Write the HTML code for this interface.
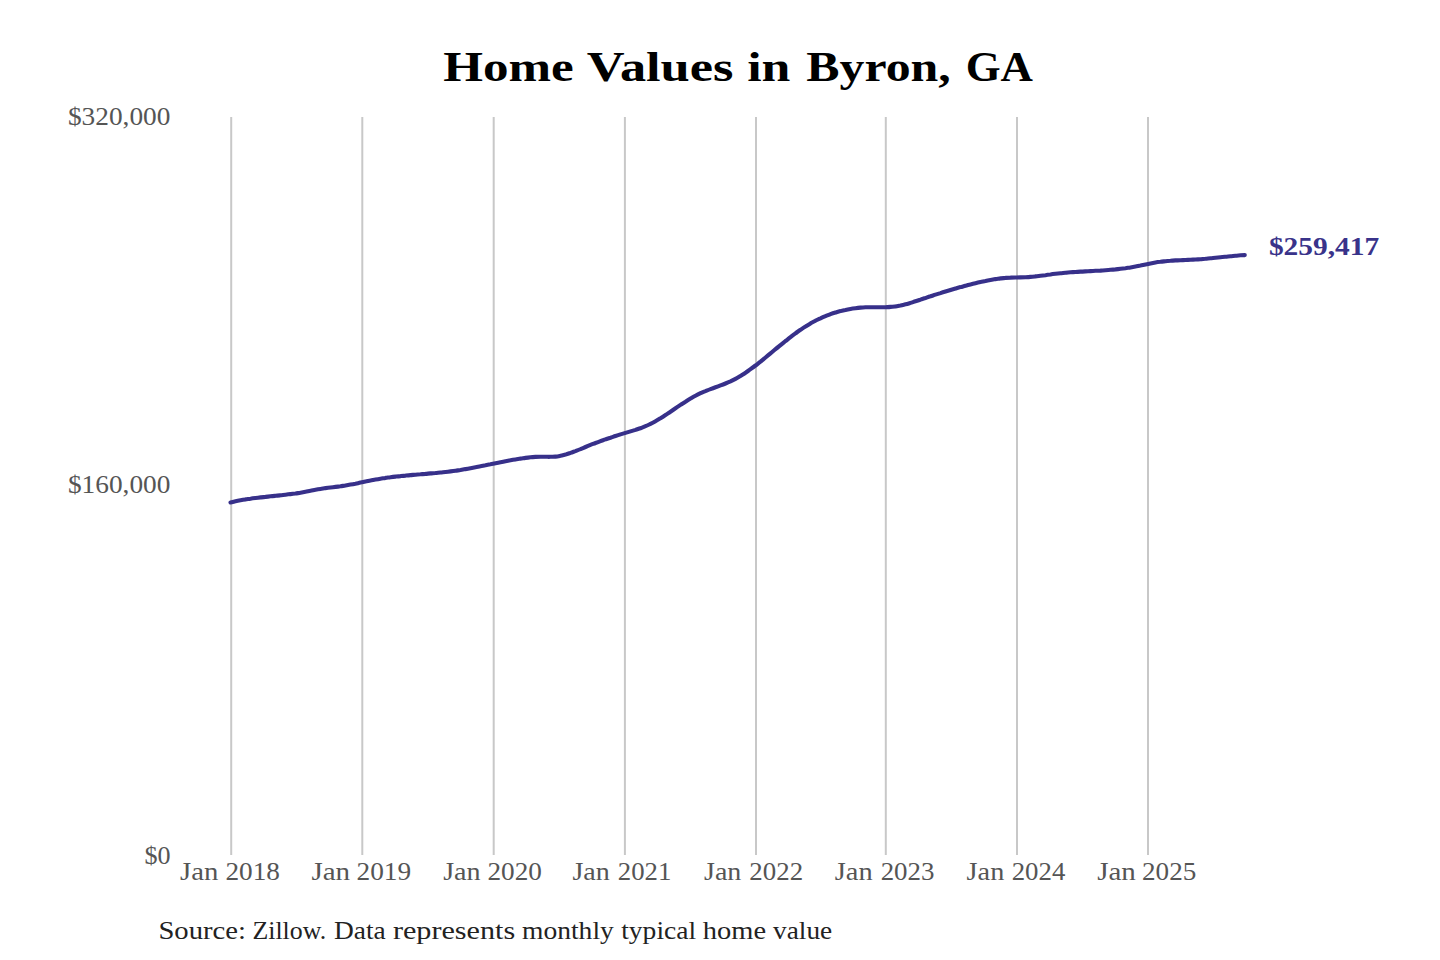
<!DOCTYPE html>
<html><head><meta charset="utf-8"><title>Home Values in Byron, GA</title><style>
html,body{margin:0;padding:0;background:#fff;width:1440px;height:960px;overflow:hidden}
svg{display:block}
text{font-family:"Liberation Serif", serif}
</style></head><body>
<svg width="1440" height="960" viewBox="0 0 1440 960">
<rect width="1440" height="960" fill="#fff"/>
<line x1="231.2" y1="117.0" x2="231.2" y2="855.0" stroke="#c8c8c8" stroke-width="2.00"/>
<line x1="362.3" y1="117.0" x2="362.3" y2="855.0" stroke="#c8c8c8" stroke-width="2.00"/>
<line x1="493.7" y1="117.0" x2="493.7" y2="855.0" stroke="#c8c8c8" stroke-width="2.00"/>
<line x1="624.9" y1="117.0" x2="624.9" y2="855.0" stroke="#c8c8c8" stroke-width="2.00"/>
<line x1="756.0" y1="117.0" x2="756.0" y2="855.0" stroke="#c8c8c8" stroke-width="2.00"/>
<line x1="885.8" y1="117.0" x2="885.8" y2="855.0" stroke="#c8c8c8" stroke-width="2.00"/>
<line x1="1017.0" y1="117.0" x2="1017.0" y2="855.0" stroke="#c8c8c8" stroke-width="2.00"/>
<line x1="1148.0" y1="117.0" x2="1148.0" y2="855.0" stroke="#c8c8c8" stroke-width="2.00"/>
<text x="443.20" y="81.30" font-size="42.50" fill="#000" font-weight="bold" textLength="130.48" lengthAdjust="spacingAndGlyphs">Home</text>
<text x="586.86" y="81.30" font-size="42.50" fill="#000" font-weight="bold" textLength="146.53" lengthAdjust="spacingAndGlyphs">Values</text>
<text x="747.24" y="81.30" font-size="42.50" fill="#000" font-weight="bold" textLength="43.20" lengthAdjust="spacingAndGlyphs">in</text>
<text x="806.28" y="81.30" font-size="42.50" fill="#000" font-weight="bold" textLength="144.54" lengthAdjust="spacingAndGlyphs">Byron,</text>
<text x="965.66" y="81.30" font-size="42.50" fill="#000" font-weight="bold" textLength="67.30" lengthAdjust="spacingAndGlyphs">GA</text>
<text x="67.90" y="124.80" font-size="25.00" fill="#555" textLength="102.55" lengthAdjust="spacingAndGlyphs">$320,000</text>
<text x="67.90" y="493.20" font-size="25.00" fill="#555" textLength="102.55" lengthAdjust="spacingAndGlyphs">$160,000</text>
<text x="144.50" y="863.80" font-size="25.00" fill="#555" textLength="26.09" lengthAdjust="spacingAndGlyphs">$0</text>
<text x="1268.90" y="254.70" font-size="24.20" fill="#39338a" font-weight="bold" textLength="110.28" lengthAdjust="spacingAndGlyphs">$259,417</text>
<text x="158.40" y="938.50" font-size="24.80" fill="#222" textLength="87.48" lengthAdjust="spacingAndGlyphs">Source:</text>
<text x="252.40" y="938.50" font-size="24.80" fill="#222" textLength="73.79" lengthAdjust="spacingAndGlyphs">Zillow.</text>
<text x="334.01" y="938.50" font-size="24.80" fill="#222" textLength="51.70" lengthAdjust="spacingAndGlyphs">Data</text>
<text x="392.91" y="938.50" font-size="24.80" fill="#222" textLength="122.29" lengthAdjust="spacingAndGlyphs">represents</text>
<text x="522.04" y="938.50" font-size="24.80" fill="#222" textLength="91.77" lengthAdjust="spacingAndGlyphs">monthly</text>
<text x="621.23" y="938.50" font-size="24.80" fill="#222" textLength="74.89" lengthAdjust="spacingAndGlyphs">typical</text>
<text x="702.87" y="938.50" font-size="24.80" fill="#222" textLength="63.24" lengthAdjust="spacingAndGlyphs">home</text>
<text x="773.10" y="938.50" font-size="24.80" fill="#222" textLength="59.14" lengthAdjust="spacingAndGlyphs">value</text>
<text x="180.00" y="879.90" font-size="25.00" fill="#555" textLength="38.32" lengthAdjust="spacingAndGlyphs">Jan</text>
<text x="225.44" y="879.90" font-size="25.00" fill="#555" textLength="54.47" lengthAdjust="spacingAndGlyphs">2018</text>
<text x="311.40" y="879.90" font-size="25.00" fill="#555" textLength="38.67" lengthAdjust="spacingAndGlyphs">Jan</text>
<text x="356.50" y="879.90" font-size="25.00" fill="#555" textLength="54.65" lengthAdjust="spacingAndGlyphs">2019</text>
<text x="443.20" y="879.90" font-size="25.00" fill="#555" textLength="37.42" lengthAdjust="spacingAndGlyphs">Jan</text>
<text x="487.51" y="879.90" font-size="25.00" fill="#555" textLength="54.43" lengthAdjust="spacingAndGlyphs">2020</text>
<text x="572.40" y="879.90" font-size="25.00" fill="#555" textLength="37.36" lengthAdjust="spacingAndGlyphs">Jan</text>
<text x="617.83" y="879.90" font-size="25.00" fill="#555" textLength="53.52" lengthAdjust="spacingAndGlyphs">2021</text>
<text x="704.00" y="879.90" font-size="25.00" fill="#555" textLength="37.29" lengthAdjust="spacingAndGlyphs">Jan</text>
<text x="749.37" y="879.90" font-size="25.00" fill="#555" textLength="53.75" lengthAdjust="spacingAndGlyphs">2022</text>
<text x="834.80" y="879.90" font-size="25.00" fill="#555" textLength="37.88" lengthAdjust="spacingAndGlyphs">Jan</text>
<text x="880.67" y="879.90" font-size="25.00" fill="#555" textLength="53.82" lengthAdjust="spacingAndGlyphs">2023</text>
<text x="966.60" y="879.90" font-size="25.00" fill="#555" textLength="37.66" lengthAdjust="spacingAndGlyphs">Jan</text>
<text x="1011.70" y="879.90" font-size="25.00" fill="#555" textLength="53.60" lengthAdjust="spacingAndGlyphs">2024</text>
<text x="1097.20" y="879.90" font-size="25.00" fill="#555" textLength="38.63" lengthAdjust="spacingAndGlyphs">Jan</text>
<text x="1142.05" y="879.90" font-size="25.00" fill="#555" textLength="54.25" lengthAdjust="spacingAndGlyphs">2025</text>
<path d="M230.5,502.5 C231.3,502.3 233.8,501.7 235.5,501.3 C237.2,500.9 238.8,500.6 240.5,500.3 C242.2,500.0 243.8,499.7 245.5,499.4 C247.2,499.2 248.8,498.9 250.5,498.7 C252.2,498.4 253.8,498.2 255.5,498.0 C257.2,497.8 258.8,497.6 260.5,497.4 C262.2,497.2 263.8,497.0 265.5,496.9 C267.2,496.7 268.8,496.5 270.5,496.3 C272.2,496.2 273.8,496.0 275.5,495.8 C277.2,495.7 278.8,495.5 280.5,495.3 C282.2,495.1 283.8,495.0 285.5,494.8 C287.2,494.6 288.8,494.4 290.5,494.1 C292.2,493.9 293.8,493.7 295.5,493.5 C297.2,493.2 298.8,493.0 300.5,492.7 C302.2,492.4 303.8,492.1 305.5,491.8 C307.2,491.5 308.8,491.1 310.5,490.8 C312.2,490.5 313.8,490.1 315.5,489.8 C317.2,489.5 318.8,489.2 320.5,488.9 C322.2,488.6 323.8,488.4 325.5,488.1 C327.2,487.9 328.8,487.7 330.5,487.5 C332.2,487.3 333.8,487.1 335.5,486.9 C337.2,486.7 338.8,486.5 340.5,486.3 C342.2,486.0 343.8,485.8 345.5,485.5 C347.2,485.2 348.8,484.9 350.5,484.6 C352.2,484.3 353.8,484.0 355.5,483.7 C357.2,483.3 358.8,483.0 360.5,482.6 C362.2,482.3 363.8,482.0 365.5,481.6 C367.2,481.3 368.8,480.9 370.5,480.6 C372.2,480.3 373.8,479.9 375.5,479.6 C377.2,479.3 378.8,479.0 380.5,478.7 C382.2,478.4 383.8,478.2 385.5,477.9 C387.2,477.7 388.8,477.4 390.5,477.2 C392.2,477.0 393.8,476.8 395.5,476.6 C397.2,476.4 398.8,476.2 400.5,476.1 C402.2,475.9 403.8,475.7 405.5,475.6 C407.2,475.4 408.8,475.2 410.5,475.1 C412.2,475.0 413.8,474.8 415.5,474.7 C417.2,474.5 418.8,474.4 420.5,474.3 C422.2,474.1 423.8,474.0 425.5,473.9 C427.2,473.7 428.8,473.6 430.5,473.4 C432.2,473.3 433.8,473.1 435.5,473.0 C437.2,472.8 438.8,472.7 440.5,472.5 C442.2,472.3 443.8,472.2 445.5,472.0 C447.2,471.8 448.8,471.6 450.5,471.4 C452.2,471.2 453.8,471.0 455.5,470.7 C457.2,470.5 458.8,470.2 460.5,470.0 C462.2,469.7 463.8,469.4 465.5,469.1 C467.2,468.9 468.8,468.6 470.5,468.2 C472.2,467.9 473.8,467.6 475.5,467.3 C477.2,467.0 478.8,466.6 480.5,466.3 C482.2,466.0 483.8,465.6 485.5,465.3 C487.2,464.9 488.8,464.6 490.5,464.3 C492.2,463.9 493.8,463.6 495.5,463.2 C497.2,462.9 498.8,462.6 500.5,462.2 C502.2,461.9 503.8,461.6 505.5,461.2 C507.2,460.9 508.8,460.6 510.5,460.3 C512.2,460.0 513.8,459.7 515.5,459.4 C517.2,459.1 518.8,458.9 520.5,458.6 C522.2,458.4 523.8,458.1 525.5,457.9 C527.2,457.7 528.8,457.5 530.5,457.3 C532.2,457.1 533.8,457.0 535.5,456.9 C537.2,456.8 538.8,456.8 540.5,456.8 C542.2,456.7 543.8,456.8 545.5,456.8 C547.2,456.8 548.8,456.9 550.5,456.8 C552.2,456.8 553.8,456.7 555.5,456.6 C557.2,456.4 558.8,456.1 560.5,455.8 C562.2,455.5 563.8,455.0 565.5,454.6 C567.2,454.1 568.8,453.5 570.5,452.9 C572.2,452.4 573.8,451.7 575.5,451.1 C577.2,450.4 578.8,449.7 580.5,449.1 C582.2,448.4 583.8,447.7 585.5,447.0 C587.2,446.3 588.8,445.6 590.5,444.9 C592.2,444.3 593.8,443.6 595.5,443.0 C597.2,442.4 598.8,441.8 600.5,441.1 C602.2,440.5 603.8,440.0 605.5,439.4 C607.2,438.8 608.8,438.2 610.5,437.7 C612.2,437.1 613.8,436.6 615.5,436.0 C617.2,435.5 618.8,435.0 620.5,434.4 C622.2,433.9 623.8,433.4 625.5,432.9 C627.2,432.4 628.8,431.9 630.5,431.4 C632.2,430.9 633.8,430.4 635.5,429.9 C637.2,429.3 638.8,428.8 640.5,428.2 C642.2,427.6 643.8,426.9 645.5,426.2 C647.2,425.5 648.8,424.7 650.5,423.9 C652.2,423.1 653.8,422.2 655.5,421.2 C657.2,420.3 658.8,419.3 660.5,418.3 C662.2,417.2 663.8,416.2 665.5,415.1 C667.2,414.0 668.8,412.8 670.5,411.7 C672.2,410.6 673.8,409.4 675.5,408.3 C677.2,407.2 678.8,406.1 680.5,404.9 C682.2,403.8 683.8,402.7 685.5,401.7 C687.2,400.6 688.8,399.6 690.5,398.6 C692.2,397.6 693.8,396.6 695.5,395.7 C697.2,394.8 698.8,394.0 700.5,393.2 C702.2,392.5 703.8,391.7 705.5,391.1 C707.2,390.4 708.8,389.7 710.5,389.1 C712.2,388.5 713.8,387.9 715.5,387.3 C717.2,386.7 718.8,386.1 720.5,385.4 C722.2,384.8 723.8,384.2 725.5,383.5 C727.2,382.8 728.8,382.1 730.5,381.4 C732.2,380.6 733.8,379.8 735.5,378.9 C737.2,378.0 738.8,377.0 740.5,376.0 C742.2,375.0 743.8,373.9 745.5,372.8 C747.2,371.6 748.8,370.4 750.5,369.2 C752.2,368.0 753.8,366.8 755.5,365.5 C757.2,364.2 758.8,362.9 760.5,361.6 C762.2,360.2 763.8,358.9 765.5,357.5 C767.2,356.1 768.8,354.8 770.5,353.4 C772.2,352.0 773.8,350.6 775.5,349.2 C777.2,347.9 778.8,346.5 780.5,345.1 C782.2,343.7 783.8,342.4 785.5,341.0 C787.2,339.7 788.8,338.4 790.5,337.1 C792.2,335.8 793.8,334.5 795.5,333.3 C797.2,332.1 798.8,330.9 800.5,329.8 C802.2,328.6 803.8,327.5 805.5,326.5 C807.2,325.4 808.8,324.4 810.5,323.4 C812.2,322.5 813.8,321.6 815.5,320.7 C817.2,319.9 818.8,319.0 820.5,318.3 C822.2,317.5 823.8,316.8 825.5,316.1 C827.2,315.4 828.8,314.8 830.5,314.1 C832.2,313.5 833.8,313.0 835.5,312.5 C837.2,312.0 838.8,311.5 840.5,311.1 C842.2,310.6 843.8,310.2 845.5,309.9 C847.2,309.5 848.8,309.2 850.5,308.9 C852.2,308.6 853.8,308.4 855.5,308.2 C857.2,308.0 858.8,307.8 860.5,307.6 C862.2,307.5 863.8,307.4 865.5,307.3 C867.2,307.3 868.8,307.2 870.5,307.2 C872.2,307.2 873.8,307.2 875.5,307.2 C877.2,307.2 878.8,307.2 880.5,307.2 C882.2,307.2 883.8,307.2 885.5,307.2 C887.2,307.1 888.8,307.1 890.5,306.9 C892.2,306.8 893.8,306.6 895.5,306.4 C897.2,306.1 898.8,305.8 900.5,305.5 C902.2,305.1 903.8,304.7 905.5,304.3 C907.2,303.9 908.8,303.4 910.5,302.9 C912.2,302.4 913.8,301.8 915.5,301.3 C917.2,300.8 918.8,300.2 920.5,299.6 C922.2,299.1 923.8,298.5 925.5,298.0 C927.2,297.4 928.8,296.8 930.5,296.3 C932.2,295.7 933.8,295.2 935.5,294.6 C937.2,294.1 938.8,293.6 940.5,293.1 C942.2,292.5 943.8,292.0 945.5,291.5 C947.2,291.0 948.8,290.5 950.5,290.0 C952.2,289.5 953.8,289.0 955.5,288.5 C957.2,288.0 958.8,287.5 960.5,287.1 C962.2,286.6 963.8,286.2 965.5,285.7 C967.2,285.3 968.8,284.8 970.5,284.4 C972.2,284.0 973.8,283.6 975.5,283.2 C977.2,282.8 978.8,282.4 980.5,282.0 C982.2,281.7 983.8,281.3 985.5,281.0 C987.2,280.6 988.8,280.3 990.5,280.0 C992.2,279.7 993.8,279.4 995.5,279.1 C997.2,278.9 998.8,278.6 1000.5,278.4 C1002.2,278.2 1003.8,278.0 1005.5,277.9 C1007.2,277.7 1008.8,277.6 1010.5,277.6 C1012.2,277.5 1013.8,277.5 1015.5,277.5 C1017.2,277.5 1018.8,277.5 1020.5,277.4 C1022.2,277.4 1023.8,277.4 1025.5,277.3 C1027.2,277.2 1028.8,277.1 1030.5,276.9 C1032.2,276.8 1033.8,276.6 1035.5,276.4 C1037.2,276.3 1038.8,276.0 1040.5,275.8 C1042.2,275.6 1043.8,275.4 1045.5,275.2 C1047.2,274.9 1048.8,274.7 1050.5,274.5 C1052.2,274.2 1053.8,274.0 1055.5,273.8 C1057.2,273.6 1058.8,273.4 1060.5,273.2 C1062.2,273.0 1063.8,272.9 1065.5,272.7 C1067.2,272.6 1068.8,272.4 1070.5,272.3 C1072.2,272.2 1073.8,272.1 1075.5,272.0 C1077.2,271.8 1078.8,271.7 1080.5,271.6 C1082.2,271.6 1083.8,271.5 1085.5,271.4 C1087.2,271.3 1088.8,271.2 1090.5,271.1 C1092.2,271.0 1093.8,270.9 1095.5,270.8 C1097.2,270.7 1098.8,270.7 1100.5,270.6 C1102.2,270.4 1103.8,270.3 1105.5,270.2 C1107.2,270.1 1108.8,270.0 1110.5,269.8 C1112.2,269.7 1113.8,269.5 1115.5,269.4 C1117.2,269.2 1118.8,269.0 1120.5,268.8 C1122.2,268.6 1123.8,268.4 1125.5,268.2 C1127.2,267.9 1128.8,267.7 1130.5,267.4 C1132.2,267.1 1133.8,266.8 1135.5,266.5 C1137.2,266.2 1138.8,265.8 1140.5,265.5 C1142.2,265.1 1143.8,264.8 1145.5,264.4 C1147.2,264.1 1148.8,263.8 1150.5,263.4 C1152.2,263.1 1153.8,262.8 1155.5,262.5 C1157.2,262.2 1158.8,262.0 1160.5,261.8 C1162.2,261.5 1163.8,261.4 1165.5,261.2 C1167.2,261.0 1168.8,260.9 1170.5,260.8 C1172.2,260.6 1173.8,260.5 1175.5,260.4 C1177.2,260.4 1178.8,260.3 1180.5,260.2 C1182.2,260.1 1183.8,260.1 1185.5,260.0 C1187.2,259.9 1188.8,259.9 1190.5,259.8 C1192.2,259.7 1193.8,259.6 1195.5,259.5 C1197.2,259.4 1198.8,259.3 1200.5,259.2 C1202.2,259.1 1203.8,258.9 1205.5,258.8 C1207.2,258.6 1208.8,258.5 1210.5,258.3 C1212.2,258.1 1213.8,258.0 1215.5,257.8 C1217.2,257.6 1218.8,257.4 1220.5,257.2 C1222.2,257.1 1223.8,256.9 1225.5,256.7 C1227.2,256.5 1228.8,256.4 1230.5,256.2 C1232.2,256.0 1233.8,255.9 1235.5,255.7 C1237.2,255.6 1239.0,255.4 1240.5,255.3 C1242.0,255.2 1244.1,255.1 1244.8,255.1" fill="none" stroke="#37308a" stroke-width="4.10" stroke-linecap="round" stroke-linejoin="round"/>
</svg>
</body></html>
